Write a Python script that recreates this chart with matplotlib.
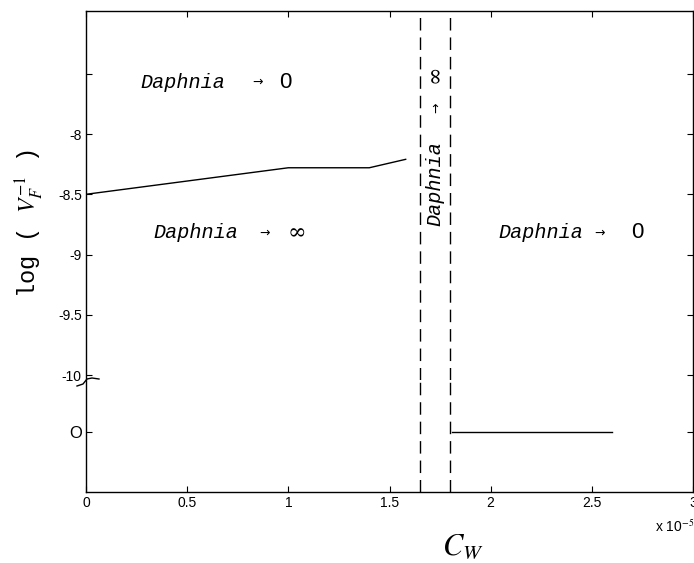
import matplotlib
matplotlib.use('Agg')
import matplotlib.pyplot as plt
from matplotlib.lines import Line2D

plt.rcParams['mathtext.fontset'] = 'stix'

# ---- data (C_W in units of 1e-5) ----
cw_line = [0.0, 1.0, 1.4, 1.58]
logv_line = [-8.5, -8.28, -8.28, -8.21]
cw_bounds = [1.65, 1.80]
cw_zero = [1.81, 2.6]
logv_zero = [0, 0]
xticks = [0, 0.5, 1, 1.5, 2, 2.5, 3]
xticklabels = ['0', '0.5', '1', '1.5', '2', '2.5', '3']
yticks_top = [-10, -9.5, -9, -8.5, -8, -7.5]
yticklabels_top = ['-10', '-9.5', '-9', '-8.5', '-8', '']
yticks_bot = [0]
yticklabels_bot = ['O']

W, H = 694, 563
fig = plt.figure(figsize=(W / 100, H / 100), dpi=100)


def fx(px):
    return px / W


def fy(py):
    return 1 - py / H


L, R = fx(86), fx(693)
ybot, ybrk, ytop = fy(492), fy(380), fy(11)
ax_t = fig.add_axes([L, ybrk, R - L, ytop - ybrk])
ax_b = fig.add_axes([L, ybot, R - L, ybrk - ybot])

for ax in (ax_t, ax_b):
    ax.set_xlim(0, 3)
    ax.set_xticks(xticks)
    for cw in cw_bounds:
        ax.axvline(cw, color='k', lw=1.0, ls=(0, (9, 5)))
    for s in ax.spines.values():
        s.set_linewidth(1.0)
    ax.tick_params(direction='in', length=4, width=0.8, right=True,
                   labelsize=10, pad=3)

ax_t.set_ylim(-10.04, -6.98)
ax_t.set_yticks(yticks_top)
ax_t.set_yticklabels(yticklabels_top, family='Liberation Sans', fontsize=10)
ax_t.spines['bottom'].set_visible(False)
ax_t.tick_params(axis='x', bottom=False, top=True, labelbottom=False)
ax_t.plot(cw_line, logv_line, color='k', lw=1.0)

ax_b.set_ylim(-0.50, 0.43)
ax_b.set_yticks(yticks_bot)
ax_b.set_yticklabels(yticklabels_bot, family='Liberation Sans', fontsize=12)
ax_b.spines['top'].set_visible(False)
ax_b.tick_params(axis='x', bottom=True, top=False)
ax_b.set_xticklabels(xticklabels, family='Liberation Sans', fontsize=10)
ax_b.plot(cw_zero, logv_zero, color='k', lw=1.0)

# break mark on the y axis
bx = [77, 83, 87, 92, 99]
by = [386, 384, 379, 378, 379]
fig.add_artist(Line2D([fx(v) for v in bx], [fy(v) for v in by],
                      color='k', lw=1.0, transform=fig.transFigure))

# axis labels
fig.text(fx(30), fy(223), 'log ( $V_F^{-1}$ )', rotation=90, ha='center',
         va='center', fontsize=17, family='Liberation Mono')
fig.text(fx(463), fy(546), '$C_W$', ha='center', va='center', fontsize=22)
fig.text(fx(655), fy(527), 'x 10$^{-5}$', ha='left', va='center',
         fontsize=10, family='Liberation Sans')

# region annotations
mono = dict(family='Liberation Mono', style='italic', fontsize=14.5,
            va='center')


def region(xd, xa, xs, y, sym, symfont, symsize):
    fig.text(fx(xd), fy(y), 'Daphnia', ha='left', **mono)
    fig.text(fx(xa), fy(y), '→', ha='center', va='center', fontsize=9,
             family='DejaVu Sans')
    fig.text(fx(xs), fy(y), sym, ha='center', va='center',
             fontsize=symsize, family=symfont)


region(140, 258, 285, 82, '0', 'Liberation Sans', 16)
region(153, 265, 297, 233, '∞', 'DejaVu Serif', 16)
region(498, 600, 637, 233, '0', 'Liberation Sans', 16)

# vertical annotation between the dashed lines
fig.text(fx(435), fy(184), 'Daphnia', rotation=90, ha='center',
         va='center', family='Liberation Mono', style='italic',
         fontsize=14.5)
fig.text(fx(436), fy(108), '→', rotation=90, ha='center', va='center',
         fontsize=9, family='DejaVu Sans')
fig.text(fx(435), fy(74), '∞', rotation=90, ha='center', va='center',
         fontsize=16, family='DejaVu Serif')

fig.savefig('out.png', dpi=100)
